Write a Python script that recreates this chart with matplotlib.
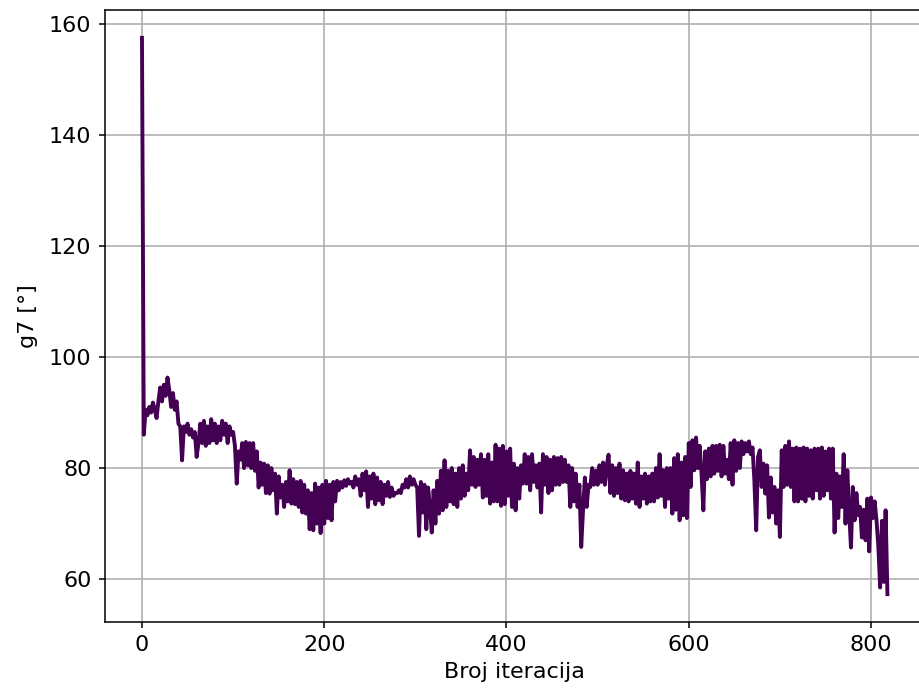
import numpy as np
import matplotlib
matplotlib.use("Agg")
import matplotlib.pyplot as plt

# Iteration numbers (every 2nd iteration shown)
iterations = list(range(0, 820, 2))

g7 = [
    157.45, 86.0, 90.5, 89.5, 91.0, 90.0, 91.8, 90.5, 89.0, 92.0,
    94.5, 92.0, 95.0, 93.0, 96.3, 94.0, 91.0, 93.5, 90.5, 92.0,
    88.0, 87.5, 81.4, 87.5, 86.5, 88.0, 86.0, 87.0, 85.5, 86.5,
    82.0, 84.5, 88.0, 84.5, 88.5, 84.0, 87.5, 84.5, 88.8, 85.0,
    88.0, 84.5, 87.5, 85.0, 88.5, 86.0, 88.0, 84.5, 87.5, 86.0,
    86.5, 84.0, 77.2, 83.0, 81.5, 84.5, 80.0, 84.7, 80.5, 84.5,
    80.0, 84.5, 79.5, 83.0, 76.5, 81.0, 77.0, 80.8, 75.5, 80.5,
    75.4, 80.0, 76.0, 79.0, 71.8, 78.5, 74.7, 77.0, 73.0, 77.5,
    74.0, 79.6, 73.6, 78.0, 73.5, 77.5, 73.0, 77.7, 72.0, 77.0,
    71.8, 76.0, 69.0, 75.5, 68.8, 77.2, 70.0, 76.5, 68.3, 77.0,
    70.0, 77.7, 71.0, 77.0, 70.6, 77.5, 74.0, 77.7, 76.0, 77.5,
    76.5, 77.8, 76.8, 78.0, 77.2, 77.5, 76.5, 78.5, 77.0, 78.0,
    75.0, 79.0, 76.0, 79.4, 73.0, 78.5, 74.5, 79.0, 73.5, 78.3,
    74.2, 77.5, 73.5, 77.0, 75.0, 77.5, 74.8, 76.5, 75.0, 75.5,
    75.5, 76.0, 75.5, 77.0, 76.5, 78.0, 76.5, 78.5, 77.0, 78.0,
    77.0, 76.5, 67.8, 77.5, 72.0, 77.0, 69.0, 76.5, 73.0, 68.4,
    76.0, 70.0, 77.7, 71.8, 79.5, 72.4, 81.4, 73.0, 79.5, 74.0,
    80.0, 73.5, 79.0, 73.0, 80.0, 74.5, 80.5, 75.0, 79.0, 76.0,
    83.2, 77.0, 82.0, 76.6, 81.5, 77.0, 82.5, 74.7, 81.5, 75.0,
    82.5, 73.6, 81.0, 74.0, 84.2, 74.0, 83.5, 73.2, 84.0, 73.5,
    83.0, 75.0, 83.5, 73.0, 80.8, 72.4, 80.0, 74.5, 80.5, 77.2,
    82.5, 77.2, 82.0, 76.0, 82.5, 77.5, 80.5, 76.5, 80.8, 72.0,
    82.5, 77.0, 82.0, 75.5, 81.5, 76.0, 82.0, 77.0, 81.8, 77.0,
    82.0, 77.5, 81.5, 77.5, 80.5, 73.0, 80.0, 74.0, 79.0, 73.0,
    77.0, 65.8, 72.5, 78.3, 73.0, 77.0, 76.6, 80.0, 77.0, 79.5,
    77.0, 80.5, 77.5, 81.0, 77.0, 80.5, 82.4, 75.5, 80.5, 75.0,
    80.0, 75.5, 80.8, 74.5, 79.6, 74.2, 79.0, 74.0, 79.5, 74.5,
    79.0, 73.6, 81.0, 73.0, 78.5, 74.5, 79.0, 73.6, 78.5, 74.0,
    79.0, 74.0, 80.0, 74.7, 82.5, 75.0, 79.6, 73.0, 80.0, 74.5,
    80.0, 71.8, 81.8, 72.5, 82.5, 70.6, 81.0, 71.5, 82.0, 71.0,
    84.5, 76.6, 85.0, 79.6, 85.5, 80.0, 84.0, 79.0, 72.4, 83.0,
    78.0, 83.5, 78.5, 84.0, 79.0, 84.0, 79.5, 84.2, 78.5, 84.0,
    79.0, 81.5, 78.0, 84.5, 77.0, 85.0, 79.5, 84.5, 80.0, 84.8,
    82.5, 84.5, 83.0, 84.8, 82.5, 83.7, 77.7, 68.8, 82.0, 83.2,
    76.6, 80.8, 75.4, 80.5, 71.1, 78.3, 72.0, 76.6, 70.0, 76.0,
    67.6, 83.2, 76.6, 84.0, 77.0, 84.8, 76.6, 83.5, 74.0, 83.7,
    74.0, 83.5, 74.5, 83.7, 74.0, 83.5, 75.0, 83.2, 74.5, 83.5,
    76.0, 83.5, 74.5, 83.7, 75.0, 83.0, 76.0, 83.5, 74.5, 83.5,
    68.4, 79.0, 71.0, 78.5, 73.0, 82.5, 70.0, 79.6, 72.0, 65.7,
    76.6, 70.6, 75.5, 71.5, 73.0, 67.5, 72.5, 67.0, 74.5, 65.0,
    74.7, 71.0, 74.0, 70.6, 66.0, 58.5, 70.5, 59.5, 72.4, 57.3,
]

W, H = 919, 698
fig = plt.figure(figsize=(W / 100, H / 100), dpi=100)
ax = fig.add_axes([104.7 / W, 76 / H, 820 / W, 612 / H])

ax.plot(iterations[:len(g7)], g7, color="#440154", linewidth=2.8)

ax.set_xticks([0, 200, 400, 600, 800])
ax.set_yticks([60, 80, 100, 120, 140, 160])
ax.grid(True, color="#b0b0b0", linewidth=1.2)
ax.set_axisbelow(True)
ax.tick_params(labelsize=16, width=1.1, length=4.5, pad=5)
for s in ax.spines.values():
    s.set_linewidth(1.1)
ax.set_xlabel("Broj iteracija", fontsize=16, labelpad=5)
ax.set_ylabel("g7 [°]", fontsize=16, labelpad=8)

fig.savefig("out.png", dpi=100)
